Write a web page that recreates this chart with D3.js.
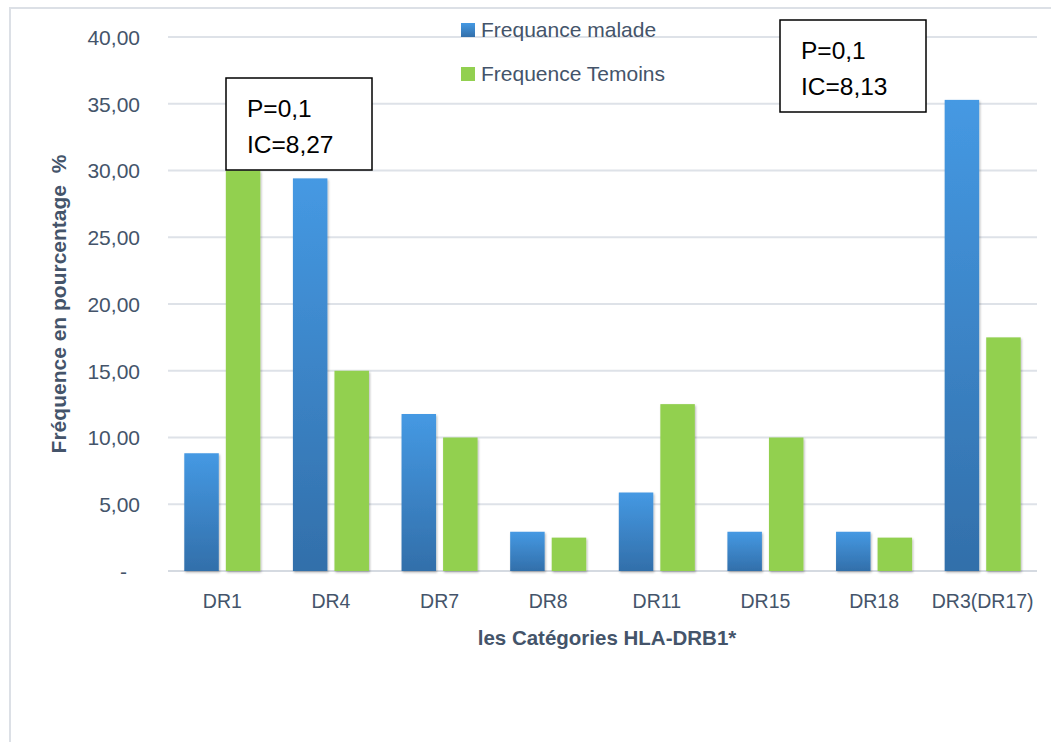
<!DOCTYPE html>
<html>
<head>
<meta charset="utf-8">
<script src="https://cdn.jsdelivr.net/npm/d3@7"></script>
<style>
  html, body { margin: 0; padding: 0; background: #fff; }
  svg { display: block; }
</style>
</head>
<body>
<svg id="chart" width="1051" height="742"></svg>
<script>
// HLA-DRB1 allele frequencies: patients vs controls
const categories = ["DR1", "DR4", "DR7", "DR8", "DR11", "DR15", "DR18", "DR3(DR17)"];
const malade  = [8.82, 29.41, 11.76, 2.94, 5.88, 2.94, 2.94, 35.29];
const temoins = [30.00, 15.00, 10.00, 2.50, 12.50, 10.00, 2.50, 17.50];
const seriesNames = ["Frequance malade", "Frequence Temoins"];
const yTicks = [0, 5, 10, 15, 20, 25, 30, 35, 40];
const notes = [
  { category: "DR1", lines: ["P=0,1", "IC=8,27"] },
  { category: "DR3(DR17)", lines: ["P=0,1", "IC=8,13"] }
];

const W = 1051, H = 742;
const textColor = "#44546A";
const fontFamily = "'Liberation Sans', Arial, sans-serif";
const plot = { left: 168, right: 1037, top: 37, bottom: 571 };

const svg = d3.select("#chart");

// defs: bar gradient and soft shadow
const defs = svg.append("defs");
const grad = defs.append("linearGradient")
  .attr("id", "blueGrad").attr("x1", 0).attr("y1", 0).attr("x2", 0).attr("y2", 1);
grad.append("stop").attr("offset", "0%").attr("stop-color", "#4599E3");
grad.append("stop").attr("offset", "100%").attr("stop-color", "#326FAA");
const shadow = defs.append("filter").attr("id", "barShadow")
  .attr("x", "-20%").attr("y", "-5%").attr("width", "140%").attr("height", "115%");
shadow.append("feDropShadow").attr("dx", 1).attr("dy", 1.5)
  .attr("stdDeviation", 1.2).attr("flood-color", "#000").attr("flood-opacity", 0.28);

// chart frame (left and top edges)
svg.append("line").attr("x1", 10).attr("x2", 10).attr("y1", 7).attr("y2", H)
  .attr("stroke", "#DCE0E6").attr("stroke-width", 2);
svg.append("line").attr("x1", 9).attr("x2", W).attr("y1", 8).attr("y2", 8)
  .attr("stroke", "#DCE0E6").attr("stroke-width", 2);

const x0 = d3.scaleBand().domain(categories).range([plot.left, plot.right]).paddingInner(0.3).paddingOuter(0.15);
const x1 = d3.scaleBand().domain(seriesNames).range([0, x0.bandwidth()]).paddingInner(0.17);
const y = d3.scaleLinear().domain([0, 40]).range([plot.bottom, plot.top]);

// gridlines
svg.append("g").selectAll("line").data(yTicks).join("line")
  .attr("x1", plot.left).attr("x2", plot.right)
  .attr("y1", d => y(d)).attr("y2", d => y(d))
  .attr("stroke", d => d === 0 ? "#D5DAE1" : "#DEE2E8").attr("stroke-width", 2);

// y axis labels
const fmt = d => d === 0 ? "-" : d3.format(".2f")(d).replace(".", ",");
const yAxis = svg.append("g").attr("transform", `translate(${plot.left - 28},0)`)
  .call(d3.axisLeft(y).tickValues(yTicks).tickFormat(fmt).tickSize(0).tickPadding(0));
yAxis.select(".domain").remove();
yAxis.selectAll("text")
  .attr("font-family", fontFamily).attr("font-size", 21).attr("fill", textColor)
  .attr("dy", "0.35em")
  .attr("dx", d => d === 0 ? -13 : 0);

// bars
const groups = svg.append("g").selectAll("g").data(categories).join("g")
  .attr("transform", d => `translate(${x0(d)},0)`);
groups.selectAll("rect")
  .data((c, i) => [
    { s: seriesNames[0], v: malade[i] },
    { s: seriesNames[1], v: temoins[i] }
  ])
  .join("rect")
  .attr("x", d => x1(d.s))
  .attr("width", x1.bandwidth())
  .attr("y", d => y(d.v))
  .attr("height", d => y(0) - y(d.v))
  .attr("fill", d => d.s === seriesNames[0] ? "url(#blueGrad)" : "#92D050")
  .attr("filter", "url(#barShadow)");

// x axis labels
const xAxis = svg.append("g").attr("transform", `translate(0,${plot.bottom})`)
  .call(d3.axisBottom(x0).tickSize(0).tickPadding(0));
xAxis.select(".domain").remove();
xAxis.selectAll("text")
  .attr("font-family", fontFamily).attr("font-size", 19.5).attr("fill", textColor)
  .attr("dy", 37);

// axis titles
svg.append("text")
  .attr("x", 607).attr("y", 645).attr("text-anchor", "middle")
  .attr("font-family", fontFamily).attr("font-size", 20.5).attr("font-weight", "bold")
  .attr("fill", textColor).text("les Catégories HLA-DRB1*");
svg.append("text")
  .attr("transform", `translate(66,${(plot.top + plot.bottom) / 2}) rotate(-90)`)
  .attr("text-anchor", "middle")
  .attr("font-family", fontFamily).attr("font-size", 21).attr("font-weight", "bold")
  .attr("fill", textColor).text("Fréquence en pourcentage\u00A0 %");

// legend
const legend = svg.append("g").attr("transform", "translate(461,23)");
seriesNames.forEach((name, i) => {
  const g = legend.append("g").attr("transform", `translate(0,${i * 44})`);
  g.append("rect").attr("width", 14).attr("height", 14)
    .attr("fill", i === 0 ? "url(#blueGrad)" : "#92D050");
  g.append("text").attr("x", 20).attr("y", 14)
    .attr("font-family", fontFamily).attr("font-size", 21).attr("fill", textColor)
    .text(name);
});

// statistic annotation boxes
const boxPos = { "DR1": { x: 226, y: 78 }, "DR3(DR17)": { x: 780, y: 20 } };
notes.forEach(n => {
  const p = boxPos[n.category];
  const g = svg.append("g").attr("transform", `translate(${p.x},${p.y})`);
  g.append("rect").attr("width", 146).attr("height", 92)
    .attr("fill", "#fff").attr("stroke", "#000").attr("stroke-width", 1.5);
  n.lines.forEach((t, i) => {
    g.append("text").attr("x", 21).attr("y", 39 + i * 36)
      .attr("font-family", fontFamily).attr("font-size", 24.5).attr("fill", "#000")
      .text(t);
  });
});
</script>
</body>
</html>
